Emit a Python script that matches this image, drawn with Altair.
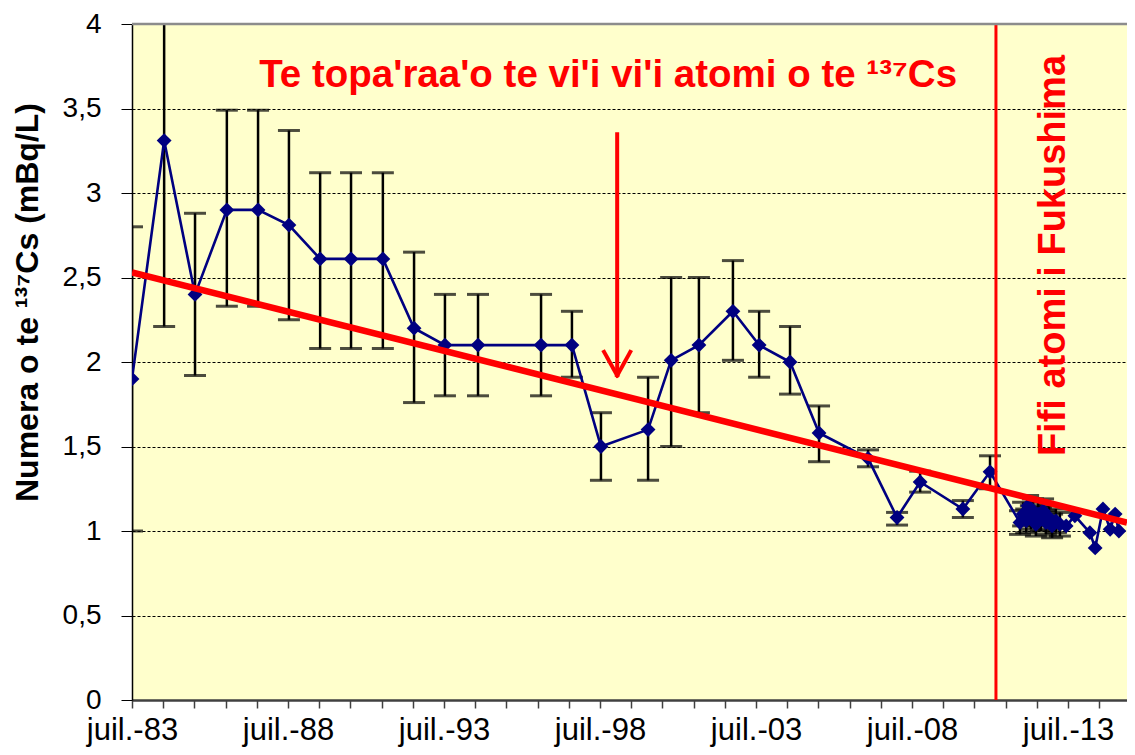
import altair as alt
import pandas as pd

# ---- data ----
years = [1983.50, 1984.53, 1985.52, 1986.54, 1987.54, 1988.53, 1989.53, 1990.52,
         1991.54, 1992.54, 1993.53, 1994.59, 1996.61, 1997.60, 1998.53, 2000.04,
         2000.78, 2001.67, 2002.76, 2003.60, 2004.59, 2005.52, 2007.09, 2008.02,
         2008.76, 2010.13, 2011.00,
         2011.96, 2012.06, 2012.16, 2012.22, 2012.31, 2012.38, 2012.47, 2012.54,
         2012.63, 2012.70, 2012.79, 2012.89, 2012.99, 2013.11, 2013.24,
         2013.44, 2013.72, 2014.20, 2014.37, 2014.62, 2014.85, 2015.01, 2015.13]
values = [1.90, 3.31, 2.40, 2.90, 2.90, 2.81, 2.61, 2.61,
          2.61, 2.20, 2.10, 2.10, 2.10, 2.10, 1.50, 1.60,
          2.01, 2.10, 2.30, 2.10, 2.00, 1.58, 1.43, 1.08,
          1.29, 1.13, 1.35,
          1.05, 1.10, 1.06, 1.15, 1.08, 1.12, 1.04, 1.10,
          1.07, 1.12, 1.05, 1.08, 1.03, 1.06, 1.04,
          1.03, 1.09, 0.99, 0.90, 1.13, 1.01, 1.10, 1.00]
err_low = [1.00, 2.21, 1.92, 2.33, 2.33, 2.25, 2.08, 2.08,
           2.08, 1.76, 1.80, 1.80, 1.80, 1.91, 1.30, 1.30,
           1.50, 1.70, 2.01, 1.91, 1.81, 1.41, 1.38, 1.035,
           1.23, 1.08, 1.25,
           0.98, 1.03, 0.99, 1.08, 1.01, 1.05, 0.97, 1.03,
           1.00, 1.05, 0.98, 1.01, 0.96, 0.99, 0.97,
           None, None, None, None, None, None, None, None]
err_high = [2.80, 4.41, 2.88, 3.49, 3.49, 3.37, 3.12, 3.12,
            3.12, 2.65, 2.40, 2.40, 2.40, 2.30, 1.70, 1.91,
            2.50, 2.50, 2.60, 2.30, 2.21, 1.74, 1.48, 1.11,
            1.354, 1.18, 1.445,
            1.12, 1.17, 1.13, 1.21, 1.15, 1.19, 1.11, 1.17,
            1.14, 1.19, 1.12, 1.15, 1.10, 1.13, 1.11,
            None, None, None, None, None, None, None, None]

trend_years = [1983.5, 2015.39]
trend_values = [2.53, 1.05]

fukushima_year = 2011.19
arrow_year = 1999.05
arrow_top = 3.36
arrow_tip = 1.92

y_ticks = [0, 0.5, 1, 1.5, 2, 2.5, 3, 3.5, 4]
x_ticks = [1983.5 + i for i in range(32)]

X_DOMAIN = [1983.5, 2015.39]
Y_DOMAIN = [0, 4]

df = pd.DataFrame({"year": years, "value": values, "lo": err_low, "hi": err_high})
df_err = df.dropna()
df_trend = pd.DataFrame({"year": trend_years, "value": trend_values})

xs = alt.Scale(domain=X_DOMAIN, nice=False, zero=False)
ys = alt.Scale(domain=Y_DOMAIN, nice=False, zero=True)

x_axis = alt.Axis(
    values=x_ticks,
    labelExpr="abs((datum.value - 1983.5) % 5) < 0.01 ? 'juil.-' + slice(toString(floor(datum.value)), 2) : ''",
    title=None, grid=False, tickSize=8, tickColor="#404040", tickWidth=1.5,
    domainColor="#404040", domainWidth=2.5, labelFontSize=31, labelFont="Liberation Sans",
    labelColor="black", labelPadding=7, labelOverlap=False, labelFlush=False, labelBound=False,
)
y_axis = alt.Axis(
    values=y_ticks,
    labelExpr="replace(toString(datum.value), '.', ',')",
    title="Numera o te ¹³⁷Cs (mBq/L)",
    titleFontSize=32, titleFont="Liberation Sans", titleFontWeight="bold", titleColor="black",
    titleX=-95, titleY=278, titleAlign="center", titleBaseline="alphabetic", titleAngle=270,
    grid=True, gridColor="black", gridDash=[3, 2], gridWidth=1,
    tickSize=11, tickColor="black", domainColor="black", domainWidth=1.5,
    labelFontSize=28, labelFont="Liberation Sans", labelColor="black", labelPadding=20,
    labelOverlap=False,
)


def X(field):
    return alt.X(field, scale=xs, axis=x_axis)


def Y(field):
    return alt.Y(field, scale=ys, axis=y_axis)


base = alt.Chart(df)
line = base.mark_line(color="#000080", strokeWidth=2.6, clip=True).encode(
    x=X("year:Q"), y=Y("value:Q")
)
points = base.mark_point(shape="diamond", filled=True, color="#000080", size=220, opacity=1, clip=True).encode(
    x=X("year:Q"), y=Y("value:Q")
)

err_base = alt.Chart(df_err)
err_rule = err_base.mark_rule(color="black", strokeWidth=2.5, clip=True).encode(
    x=X("year:Q"), y=Y("lo:Q"), y2="hi:Q"
)
cap_hi = err_base.mark_tick(color="black", orient="horizontal", size=22, thickness=3, clip=True).encode(
    x=X("year:Q"), y=Y("hi:Q")
)
cap_lo = err_base.mark_tick(color="black", orient="horizontal", size=22, thickness=3, clip=True).encode(
    x=X("year:Q"), y=Y("lo:Q")
)

trend = alt.Chart(df_trend).mark_line(color="#FF0000", strokeWidth=6.5, clip=True).encode(
    x=X("year:Q"), y=Y("value:Q")
)

top_df = pd.DataFrame({"top": [Y_DOMAIN[1]]})
top_border = alt.Chart(top_df).mark_rule(color="#8C8C8C", strokeWidth=2.5).encode(y=Y("top:Q"))

fuku_df = pd.DataFrame({"year": [fukushima_year], "y0": [Y_DOMAIN[0]], "y1": [Y_DOMAIN[1]]})
fuku = alt.Chart(fuku_df).mark_rule(color="#FF0000", strokeWidth=3).encode(
    x=X("year:Q"), y=Y("y0:Q"), y2="y1:Q"
)

arrow_df = pd.DataFrame({"year": [arrow_year], "top": [arrow_top], "tip": [arrow_tip]})
arrow_shaft = alt.Chart(arrow_df).mark_rule(color="#FF0000", strokeWidth=4).encode(
    x=X("year:Q"), y=Y("top:Q"), y2="tip:Q"
)
head_df = pd.DataFrame({
    "x1": [arrow_year - 0.42, arrow_year + 0.42],
    "y1": [arrow_tip + 0.14, arrow_tip + 0.14],
    "x2": [arrow_year, arrow_year],
    "y2": [arrow_tip, arrow_tip],
})
arrow_head = alt.Chart(head_df).mark_rule(color="#FF0000", strokeWidth=4, strokeCap="square").encode(
    x=X("x1:Q"), y=Y("y1:Q"), x2="x2:Q", y2="y2:Q"
)

title_df = pd.DataFrame({"year": [1998.76], "value": [3.63], "text": ["Te topa'raa'o te vi'i vi'i atomi o te ¹³⁷Cs"]})
title_text = alt.Chart(title_df).mark_text(
    color="#FF0000", fontSize=38.5, fontWeight="bold", font="Liberation Sans",
    align="center", baseline="alphabetic"
).encode(x=X("year:Q"), y=Y("value:Q"), text="text:N")

fuku_text_df = pd.DataFrame({"year": [2013.05], "value": [2.63], "text": ["Fifi atomi i Fukushima"]})
fuku_text = alt.Chart(fuku_text_df).mark_text(
    color="#FF0000", fontSize=38, fontWeight="bold", font="Liberation Sans",
    align="center", baseline="middle", angle=270
).encode(x=X("year:Q"), y=Y("value:Q"), text="text:N")

chart = alt.layer(
    err_rule, cap_hi, cap_lo, line, points, fuku, trend, top_border,
    arrow_shaft, arrow_head, title_text, fuku_text
).properties(
    width=995, height=676,
    padding={"left": 124, "top": 16, "right": 0, "bottom": 47},
    autosize=alt.AutoSizeParams(type="none"),
    background="white",
).configure_view(
    fill="#FFFFCC", stroke=None
)

chart.save("out.html", embed_options={"renderer": "svg", "actions": False})
